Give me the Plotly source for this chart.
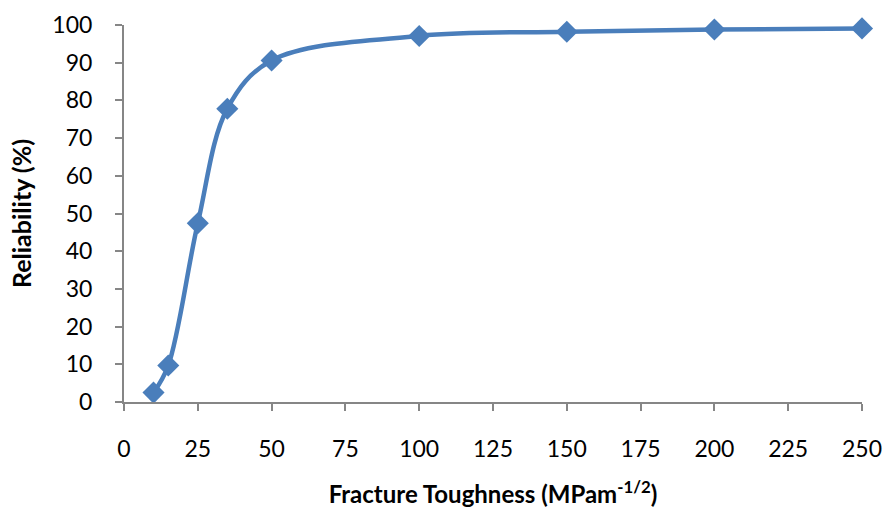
import plotly.graph_objects as go

# Fracture toughness (MPa m^-1/2) vs. reliability (%)
toughness = [10, 15, 25, 35, 50, 100, 150, 200, 250]
reliability = [2.5, 9.7, 47.4, 77.8, 90.6, 97.1, 98.2, 98.8, 99.1]

x_ticks = [0, 25, 50, 75, 100, 125, 150, 175, 200, 225, 250]
y_ticks = [0, 10, 20, 30, 40, 50, 60, 70, 80, 90, 100]

BLUE = "#4a7ebb"
AXIS = "#868686"
FONT = "Lato"

fig = go.Figure(
    go.Scatter(
        x=toughness,
        y=reliability,
        mode="lines+markers",
        line=dict(color=BLUE, width=4.5, shape="spline", smoothing=1.0),
        marker=dict(symbol="diamond", size=17, color=BLUE),
        cliponaxis=False,
        showlegend=False,
    )
)

fig.update_layout(
    width=886,
    height=511,
    margin=dict(l=124, r=24, t=25, b=109),
    paper_bgcolor="white",
    plot_bgcolor="white",
    font=dict(family=FONT, size=23, color="#000000"),
)

fig.update_xaxes(
    range=[0, 250],
    tickvals=x_ticks,
    ticks="outside",
    ticklen=7,
    tickwidth=2,
    tickcolor=AXIS,
    showline=True,
    linecolor=AXIS,
    linewidth=2,
    showgrid=False,
    zeroline=False,
    automargin=False,
    ticklabelstandoff=18,
    tickfont=dict(size=23),
    title=dict(
        text="<b>Fracture Toughness (MPam<sup>-1/2</sup>)</b>",
        font=dict(size=24),
        standoff=26,
    ),
)

fig.update_yaxes(
    range=[0, 100],
    tickvals=y_ticks,
    ticks="outside",
    ticklen=7,
    tickwidth=2,
    tickcolor=AXIS,
    showline=True,
    linecolor=AXIS,
    linewidth=2,
    showgrid=False,
    zeroline=False,
    automargin=False,
    ticklabelstandoff=18,
    tickfont=dict(size=23),
    title=dict(
        text="<b>Reliability (%)</b>",
        font=dict(size=25),
        standoff=14,
    ),
)

fig.write_html("out.html")
